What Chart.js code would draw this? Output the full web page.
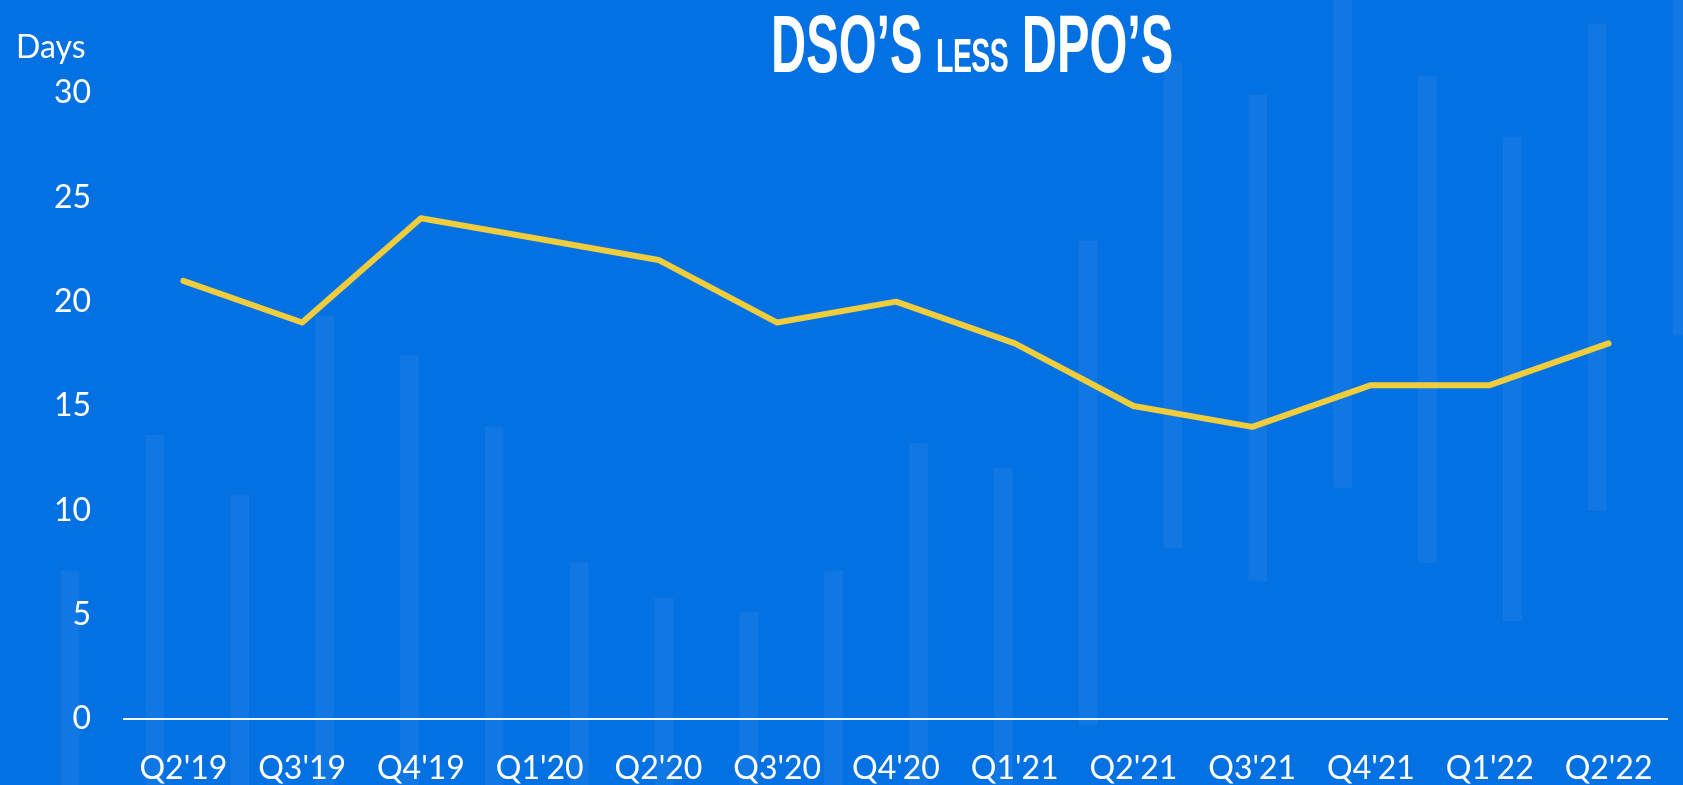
<!DOCTYPE html>
<html>
<head>
<meta charset="utf-8">
<script src="https://cdn.jsdelivr.net/npm/chart.js@4.4.1/dist/chart.umd.min.js"></script>
<style>
  html, body { margin: 0; padding: 0; background: #0471e2; overflow: hidden; }
  #wrap { position: relative; width: 1683px; height: 785px; }
  #title {
    position: absolute; left: 771px; top: 3px; white-space: nowrap;
    font-family: "Liberation Sans", Arial, sans-serif; font-weight: 700; font-size: 82px;
    color: #fff; line-height: 82px; transform: scaleX(0.594); transform-origin: 0 0;
  }
  #title .small { font-size: 48px; letter-spacing: -1px; }
  #unit {
    position: absolute; left: 16px; top: 30px; line-height: 32px;
    font-family: Lato, sans-serif; font-size: 32px; color: #fff;
  }
</style>
</head>
<body>
<div id="wrap">
  <canvas id="dsoChart"></canvas>
  <div id="title">DSO’S <span class="small">LESS</span> DPO’S</div>
  <div id="unit">Days</div>
</div>
<script>
// quarters on the x axis
const quarters = ["Q2'19", "Q3'19", "Q4'19", "Q1'20", "Q2'20", "Q3'20", "Q4'20",
                  "Q1'21", "Q2'21", "Q3'21", "Q4'21", "Q1'22", "Q2'22"];
// DSO less DPO, in days
const dsoLessDpo = [21, 19, 24, 23, 22, 19, 20, 18, 15, 14, 16, 16, 18];
const yTicks = [0, 5, 10, 15, 20, 25, 30];

// faint background stripes (decoration), low/high in days
const stripeLow  = [-4, -4, -4, -4, -4, -4, -4, -4, -4, -4, -4, -4, -0.3, 8.2, 6.6, 11.1, 7.5, 4.7, 10.0, 18.4];
const stripeHigh = [7.1, 13.6, 10.7, 19.3, 17.4, 14.0, 7.5, 5.8, 5.1, 7.1, 13.2, 12.0, 22.9, 31.5, 29.9, 35, 30.8, 27.9, 33.3, 35];

Chart.defaults.font.family = "Lato, sans-serif";

const ctx = document.getElementById("dsoChart").getContext("2d");
new Chart(ctx, {
    data: {
        labels: quarters,
        datasets: [{
            type: "line",
            label: "DSO less DPO",
            data: dsoLessDpo,
            borderColor: "#f0cd3c",
            borderWidth: 6,
            borderCapStyle: "round",
            borderJoinStyle: "round",
            pointRadius: 0,
            tension: 0,
            order: 1
        }, {
            type: "bar",
            label: "stripes",
            xAxisID: "xd",
            data: stripeLow.map((lo, i) => ({ x: i, y: [lo, stripeHigh[i]] })),
            backgroundColor: "rgba(255,255,255,0.055)",
            barThickness: 18,
            clip: false,
            order: 2
        }]
    },
    options: {
        responsive: true,
        maintainAspectRatio: false,
        animation: false,
        layout: { padding: { top: 93, right: 14, bottom: 0, left: 0 } },
        plugins: {
            legend: { display: false },
            tooltip: { enabled: false }
        },
        scales: {
            x: {
                type: "category",
                offset: true,
                z: 1,
                grid: { display: false, drawTicks: false },
                border: { display: true, color: "#f2f7ff", width: 2 },
                ticks: { color: "#fff", font: { size: 32 }, padding: 30, maxRotation: 0, autoSkip: false },
                afterFit: scale => { scale.height = 66; }
            },
            xd: {
                type: "linear",
                display: false,
                offset: false,
                min: 0.742,
                max: 18.941
            },
            y: {
                min: 0,
                max: 30,
                grid: { display: false, drawTicks: false },
                border: { display: false },
                afterBuildTicks: scale => { scale.ticks = yTicks.map(v => ({ value: v })); },
                ticks: { color: "#fff", font: { size: 32 }, padding: 33 },
                afterFit: scale => { scale.width = 124; }
            }
        }
    }
});
</script>
</body>
</html>
